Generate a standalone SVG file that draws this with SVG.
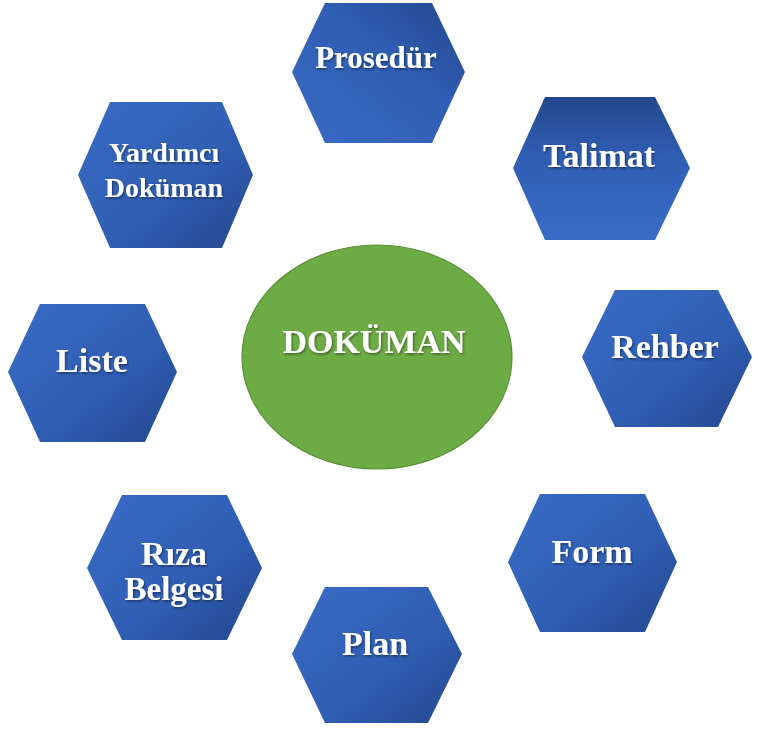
<svg xmlns="http://www.w3.org/2000/svg" width="758" height="729" viewBox="0 0 758 729">
<defs>
<linearGradient id="gTLBR" x1="0" y1="0" x2="1" y2="1"><stop offset="0" stop-color="#3A6CC6"/><stop offset="0.6" stop-color="#2F5DB2"/><stop offset="1" stop-color="#23478C"/></linearGradient>
<linearGradient id="gBLTR" x1="0" y1="1" x2="1" y2="0"><stop offset="0" stop-color="#3A6CC6"/><stop offset="0.6" stop-color="#2F5DB2"/><stop offset="1" stop-color="#23478C"/></linearGradient>
<linearGradient id="gBT" x1="0" y1="1" x2="0" y2="0"><stop offset="0" stop-color="#3A6CC6"/><stop offset="0.6" stop-color="#2F5DB2"/><stop offset="1" stop-color="#23478C"/></linearGradient>
<filter id="sh" x="-10%" y="-20%" width="130%" height="150%"><feDropShadow dx="1" dy="1.5" stdDeviation="0.8" flood-color="#000" flood-opacity="0.45"/></filter>
</defs>
<style>
.hex{stroke:none}
text{font-family:"Liberation Serif","Times New Roman",serif;font-weight:bold;fill:#fff;text-anchor:middle;filter:url(#sh)}
</style>
<g id="connectors"/>
<g id="center">
<ellipse cx="377" cy="357" rx="135" ry="112" fill="#6DAB45" stroke="#5B8F38" stroke-width="1.2"/>
<text x="374" y="353" font-size="34">DOKÜMAN</text>
</g>
<g id="prosedur">
<polygon class="hex" fill="url(#gBLTR)" points="292,72 325,3 432,3 465,72 432,143 325,143"/>
<text x="376" y="68" font-size="31">Prosedür</text>
</g>
<g id="talimat">
<polygon class="hex" fill="url(#gBT)" points="513,168 545,97 655,97 690,168 655,240 545,240"/>
<text x="599" y="167" font-size="34">Talimat</text>
</g>
<g id="rehber">
<polygon class="hex" fill="url(#gTLBR)" points="582,357 615,290 718,290 752,357 718,427 615,427"/>
<text x="665" y="358" font-size="34">Rehber</text>
</g>
<g id="form">
<polygon class="hex" fill="url(#gTLBR)" points="508,562 540,494 645,494 677,562 645,632 540,632"/>
<text x="592" y="563" font-size="34">Form</text>
</g>
<g id="plan">
<polygon class="hex" fill="url(#gTLBR)" points="292,654 325,587 428,587 462,654 428,723 325,723"/>
<text x="375" y="655" font-size="34">Plan</text>
</g>
<g id="riza-belgesi">
<polygon class="hex" fill="url(#gTLBR)" points="87,568 122,495 227,495 262,568 227,640 122,640"/>
<text x="174" y="565" font-size="34">Rıza</text>
<text x="174" y="600" font-size="33">Belgesi</text>
</g>
<g id="liste">
<polygon class="hex" fill="url(#gTLBR)" points="8,372 40,304 145,304 177,372 145,442 40,442"/>
<text x="92" y="372" font-size="34">Liste</text>
</g>
<g id="yardimci-dokuman">
<polygon class="hex" fill="url(#gTLBR)" points="78,175 110,102 222,102 253,175 222,248 110,248"/>
<text x="164" y="162" font-size="28">Yardımcı</text>
<text x="164" y="197" font-size="28">Doküman</text>
</g>
</svg>
